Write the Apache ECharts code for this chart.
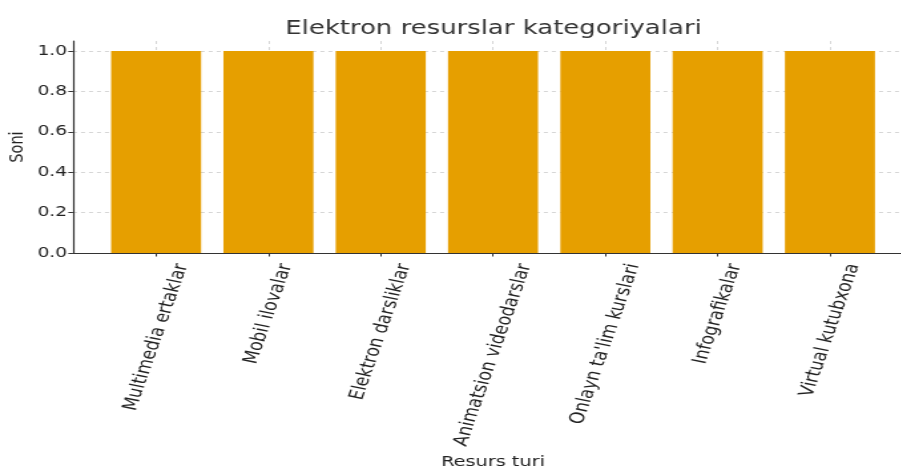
<!DOCTYPE html>
<html>
<head>
<meta charset="utf-8">
<script src="https://cdn.jsdelivr.net/npm/echarts@6/dist/echarts.min.js"></script>
<style>
  html, body { margin: 0; padding: 0; background: #fff; overflow: hidden; }
  /* asl rasm gorizontal cho'zilgan, shuning uchun scaleX */
  #chart { width: 692px; height: 472px; transform: scaleX(1.33); transform-origin: 0 0; }
</style>
</head>
<body>
<div id="chart"></div>
<script>
// kategoriyalar va qiymatlar
var categories = ['Multimedia ertaklar', 'Mobil ilovalar', 'Elektron darsliklar', 'Animatsion videodarslar', "Onlayn ta'lim kurslari", 'Infografikalar', 'Virtual kutubxona']
var counts = [1, 1, 1, 1, 1, 1, 1]
var yTicks = [0, 0.2, 0.4, 0.6, 0.8, 1.0]

var font = 'DejaVu Sans'
var labelSize = 15.5
var xPos = categories.map(function (c, i) { return i })

// matplotlib kabi: burilgan yozuv ramkasi markazi tik ustida bo'lsin
var ctx = document.createElement('canvas').getContext('2d')
ctx.font = labelSize + 'px "' + font + '"'
var rich = {}
categories.forEach(function (c, i) {
  var L = ctx.measureText(c).width
  rich['c' + i] = {
    fontFamily: font,
    fontSize: labelSize,
    color: '#222',
    lineHeight: 0.25 * L,
    padding: [0, 0.933 * L, 0, 0]
  }
})

var chart = echarts.init(document.getElementById('chart'))

chart.setOption({
  animation: false,
  title: {
    text: 'Elektron resurslar kategoriyalari',
    left: 366,
    textAlign: 'center',
    top: 14,
    textStyle: { fontFamily: font, fontSize: 19.5, fontWeight: 'normal', color: '#333' }
  },
  grid: { left: 54.9, top: 41, width: 631.6, height: 212, outerBoundsMode: 'none' },
  xAxis: {
    type: 'value',
    min: -0.74,
    max: 6.74,
    name: 'Resurs turi',
    nameLocation: 'middle',
    nameGap: 202,
    nameMoveOverlap: false,
    nameTextStyle: { fontFamily: font, fontSize: 14.5, color: '#222' },
    axisLine: { show: true, onZero: false, lineStyle: { color: '#333', width: 1.2 } },
    axisTick: { show: true, length: 3.5, customValues: xPos, lineStyle: { color: '#333' } },
    axisLabel: {
      customValues: xPos,
      rotate: 75,
      align: 'center',
      verticalAlign: 'top',
      margin: 11,
      rich: rich,
      formatter: function (v) {
        var i = Math.round(v)
        return '{c' + i + '|' + categories[i] + '}'
      }
    },
    splitLine: { show: true, lineStyle: { color: '#ccc', type: [3, 3], width: 0.8 } }
  },
  yAxis: {
    type: 'value',
    min: 0,
    max: 1.05,
    name: 'Soni',
    nameLocation: 'middle',
    nameGap: 34,
    nameMoveOverlap: false,
    nameTextStyle: { fontFamily: font, fontSize: 14.5, color: '#222' },
    axisLine: { show: true, onZero: false, lineStyle: { color: '#333', width: 1.2 } },
    axisTick: { show: true, length: 3.5, customValues: yTicks, lineStyle: { color: '#333' } },
    axisLabel: {
      customValues: yTicks,
      fontFamily: font,
      fontSize: 14,
      color: '#222',
      margin: 4.5,
      formatter: function (v) { return v.toFixed(1) }
    },
    splitLine: { show: true, lineStyle: { color: '#ccc', type: [3, 3], width: 0.8 } }
  },
  series: [{
    type: 'bar',
    barWidth: 67.7,
    itemStyle: { color: '#E69F00' },
    data: counts.map(function (v, i) { return [xPos[i], v] })
  }]
})
</script>
</body>
</html>
